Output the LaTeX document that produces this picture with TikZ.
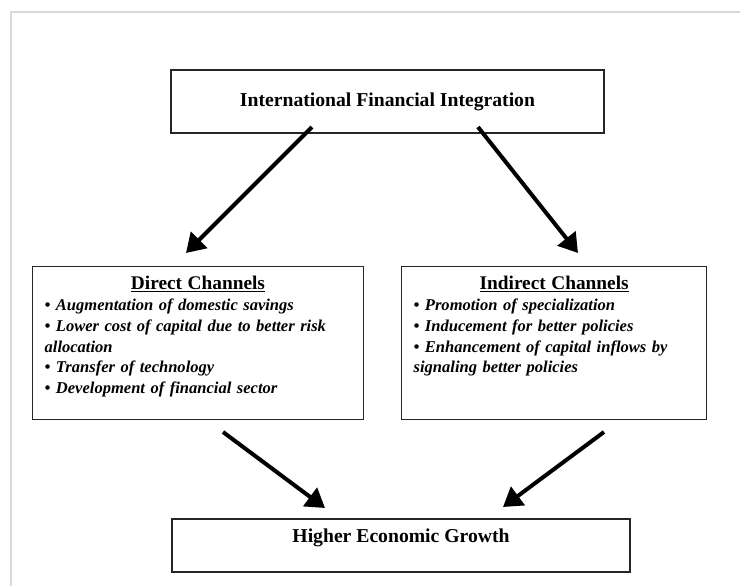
\documentclass[tikz,border=0pt]{standalone}
\usepackage{fontspec}
\setmainfont{Liberation Serif}
\usetikzlibrary{arrows.meta}

\tikzset{
  headbox/.style={draw=black!85,line width=1pt,inner sep=0pt,
                  font=\fontsize{14.75}{16}\selectfont\bfseries},
  chanbox/.style={draw=black!85,line width=1pt,anchor=north west,
                  inner xsep=9pt,inner ysep=0pt,align=left,
                  text height=17.25pt,text depth=97.5pt,
                  font=\fontsize{12.4}{15.6}\selectfont\bfseries\itshape},
  fatarrow/.style={line width=3pt,-{Triangle[length=14pt,width=17pt]}},
}

\begin{document}
\begin{tikzpicture}[x=0.75pt,y=-0.75pt]
      \useasboundingbox (0,0) rectangle (740,586);
      \draw[black!15,line width=1.1pt] (740,12) -- (11,12) -- (11,586);

      % boxes
      \node[headbox,minimum width=324.75pt,minimum height=47.25pt] (iff) at (387.5,101.5) {International Financial Integration};
      \node[chanbox,text width=230pt] (direct) at (32,266) {%
        \makebox[\linewidth][c]{\fontsize{14.5}{15.6}\selectfont\upshape\underline{Direct Channels}}\\
        \textbullet\ Augmentation of domestic savings\\
        \textbullet\ Lower cost of capital due to better risk\\
        allocation\\
        \textbullet\ Transfer of technology\\
        \textbullet\ Development of financial sector};
      \node[chanbox,text width=210.75pt] (indirect) at (401,266) {%
        \makebox[\linewidth][c]{\fontsize{14.5}{15.6}\selectfont\upshape\underline{Indirect Channels}}\\
        \textbullet\ Promotion of specialization\\
        \textbullet\ Inducement for better policies\\
        \textbullet\ Enhancement of capital inflows by\\
        signaling better policies};
      \node[headbox,minimum width=343.5pt,minimum height=39.75pt,text height=8pt,text depth=12pt] (growth) at (401,545.5) {Higher Economic Growth};

      % arrow ends
      \coordinate (iffL) at (312,127);
      \coordinate (iffR) at (478,127);
      \coordinate (dirT) at (186,253);
      \coordinate (indT) at (578,253);
      \coordinate (dirB) at (223,432);
      \coordinate (indB) at (604,432);
      \coordinate (grwL) at (325,508);
      \coordinate (grwR) at (503,507);

      \foreach \s/\t in {iffL/dirT,iffR/indT,dirB/grwL,indB/grwR} {
        \draw[fatarrow] (\s) -- (\t);
      }
\end{tikzpicture}
\end{document}
